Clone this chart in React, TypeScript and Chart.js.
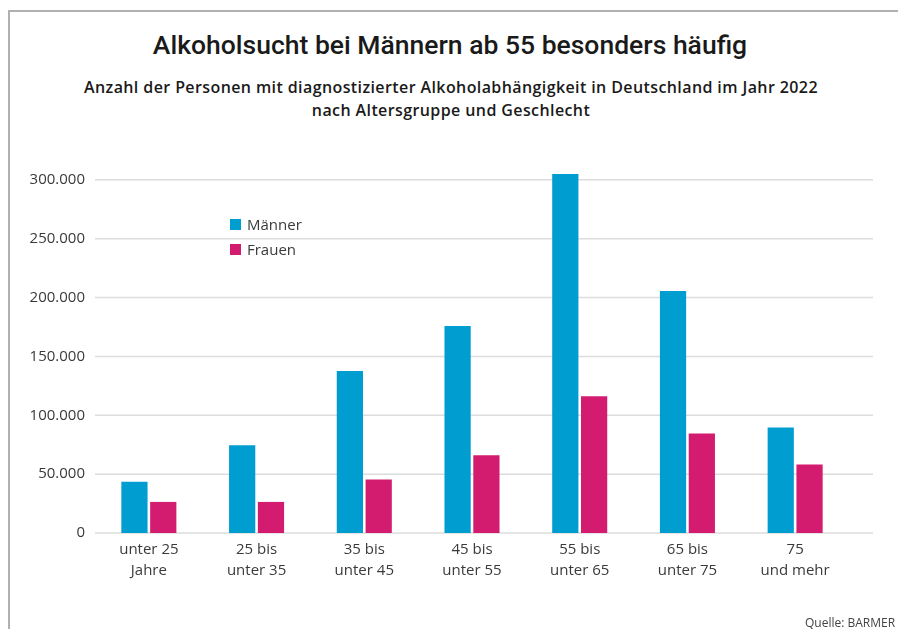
import React, { useEffect, useRef } from "react";
import { Chart, registerables } from "chart.js";

Chart.register(...registerables);

const title = "Alkoholsucht bei Männern ab 55 besonders häufig";
const subtitle1 = "Anzahl der Personen mit diagnostizierter Alkoholabhängigkeit in Deutschland im Jahr 2022";
const subtitle2 = "nach Altersgruppe und Geschlecht";
const source = "Quelle: BARMER";

const categories: string[][] = [
  ["unter 25", "Jahre"],
  ["25 bis", "unter 35"],
  ["35 bis", "unter 45"],
  ["45 bis", "unter 55"],
  ["55 bis", "unter 65"],
  ["65 bis", "unter 75"],
  ["75", "und mehr"],
];
const seriesNames = ["Männer", "Frauen"];
const maenner = [43500, 74500, 137500, 175800, 304800, 205500, 89600];
const frauen = [26400, 26400, 45400, 66100, 116200, 84500, 58200];
const yTicks = [0, 50000, 100000, 150000, 200000, 250000, 300000];

const BLUE = "#009dd1";
const MAGENTA = "#d31c6f";
const FONT = "'Open Sans', sans-serif";
const TITLE_FONT = "Roboto, sans-serif";

const fmt = (v: number) => String(Math.round(v)).replace(/\B(?=(\d{3})+(?!\d))/g, ".");

const gridPlugin = {
  id: "extGrid",
  beforeDatasetsDraw(chart: any) {
    const { ctx, chartArea, scales } = chart;
    const y = scales.y;
    ctx.save();
    ctx.strokeStyle = "#dcdcdc";
    ctx.lineWidth = 1.5;
    yTicks.forEach((t) => {
      const py = y.getPixelForValue(t);
      ctx.beginPath();
      ctx.moveTo(chartArea.left, py);
      ctx.lineTo(chartArea.right + 24, py);
      ctx.stroke();
    });
    ctx.restore();
  },
};

function BarChart() {
  const ref = useRef<HTMLCanvasElement>(null);
  useEffect(() => {
    if (!ref.current) return;
    const chart = new Chart(ref.current, {
      type: "bar",
      data: {
        labels: categories,
        datasets: [
          {
            label: seriesNames[0],
            data: maenner,
            backgroundColor: BLUE,
            categoryPercentage: 0.535,
            barPercentage: 0.91,
          },
          {
            label: seriesNames[1],
            data: frauen,
            backgroundColor: MAGENTA,
            categoryPercentage: 0.535,
            barPercentage: 0.91,
          },
        ],
      },
      options: {
        animation: false,
        responsive: false,
        maintainAspectRatio: false,
        layout: { padding: { top: 168, right: 49, left: 0, bottom: 0 } },
        plugins: { legend: { display: false }, tooltip: { enabled: false }, title: { display: false } },
        scales: {
          x: {
            grid: { display: false, drawTicks: false },
            border: { display: false },
            ticks: {
              color: "#3a3a3a",
              font: { family: FONT, size: 15, lineHeight: 1.4 },
              padding: 6,
              maxRotation: 0,
              autoSkip: false,
            },
            afterFit: (s: any) => {
              s.height = 96;
            },
          },
          y: {
            min: 0,
            max: 310000,
            afterBuildTicks: (s: any) => {
              s.ticks = yTicks.map((v) => ({ value: v }));
            },
            grid: { display: false, drawTicks: false },
            border: { display: false },
            ticks: {
              color: "#3a3a3a",
              font: { family: FONT, size: 15 },
              padding: 10,
              callback: (v: any) => fmt(Number(v)),
            },
            afterFit: (s: any) => {
              s.width = 95;
            },
          },
        },
      },
      plugins: [gridPlugin],
    });
    return () => chart.destroy();
  }, []);
  return <canvas ref={ref} width={898} height={629} style={{ position: "absolute", left: 0, top: 0 }} />;
}

export default function App() {
  const legendItem = (color: string, label: string, top: number) => (
    <div style={{ position: "absolute", left: 230, top, height: 12, display: "flex", alignItems: "center", fontFamily: FONT, fontSize: 15, color: "#3a3a3a" }}>
      <span style={{ display: "inline-block", width: 11, height: 11, background: color, marginRight: 6 }} />
      <span>{label}</span>
    </div>
  );
  return (
    <div style={{ position: "absolute", left: 0, top: 0, width: 898, height: 629, overflow: "hidden", background: "#fff" }}>
      <div style={{ position: "absolute", left: 8, top: 10, width: 1000, height: 1000, borderTop: "2px solid #b0b0b0", borderLeft: "2px solid #b0b0b0" }} />
      <div style={{ position: "absolute", left: 0, width: 900, top: 29, textAlign: "center", fontFamily: TITLE_FONT, fontSize: 26.5, fontWeight: 500, color: "#1a1a1a", lineHeight: "32px" }}>
        {title}
      </div>
      <div style={{ position: "absolute", left: 0, width: 902, top: 76, textAlign: "center", fontFamily: FONT, fontSize: 16, fontWeight: 600, letterSpacing: 0.4, color: "#1a1a1a", lineHeight: "23px" }}>
        {subtitle1}
        <br />
        {subtitle2}
      </div>
      <BarChart />
      {legendItem(BLUE, seriesNames[0], 218)}
      {legendItem(MAGENTA, seriesNames[1], 243)}
      <div style={{ position: "absolute", left: 805, top: 614, fontFamily: FONT, fontSize: 12, color: "#444", whiteSpace: "nowrap" }}>{source}</div>
    </div>
  );
}
